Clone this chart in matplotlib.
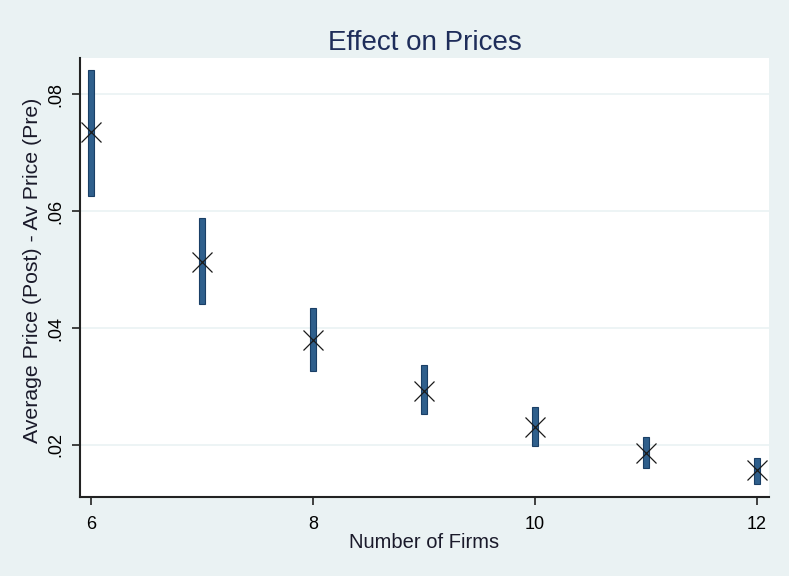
import matplotlib
matplotlib.use('Agg')
import matplotlib.pyplot as plt

# Dados
firms = [6, 7, 8, 9, 10, 11, 12]
effect = [0.0735, 0.0513, 0.0380, 0.0293, 0.0231, 0.0186, 0.0157]
ci_low = [0.0626, 0.0441, 0.0326, 0.0253, 0.0198, 0.0161, 0.0134]
ci_high = [0.0841, 0.0589, 0.0435, 0.0336, 0.0265, 0.0214, 0.0178]
yticks = [0.02, 0.04, 0.06, 0.08]
ytick_labels = ['.02', '.04', '.06', '.08']
xticks = [6, 8, 10, 12]

plt.rcParams['font.family'] = ['Liberation Sans', 'DejaVu Sans']

bg = '#eaf2f3'
fig = plt.figure(figsize=(7.89, 5.76), dpi=100, facecolor=bg)
ax = fig.add_axes([0.1014, 0.1372, 0.8733, 0.7621])
ax.set_facecolor('white')

# Grade horizontal
for t in yticks:
    ax.axhline(t, color=bg, linewidth=1.2, zorder=0)

# Barras do intervalo
heights = [h - l for h, l in zip(ci_high, ci_low)]
ax.bar(firms, heights, bottom=ci_low, width=0.05, color='#2f5f8c',
       edgecolor='#1a3f66', linewidth=0.8, zorder=2)

# Pontos
ax.plot(firms, effect, linestyle='none', marker='x', markersize=14,
        markeredgewidth=0.9, color='#1a1a1a', zorder=3)

ax.set_xlim(5.90, 12.11)
ax.set_ylim(0.0111, 0.0862)
ax.set_xticks(xticks)
ax.set_yticks(yticks)
ax.set_yticklabels(ytick_labels, rotation=90, va='center')
ax.tick_params(axis='both', labelsize=13, length=6, width=1.2, color='#222222',
               labelcolor='black', direction='out')
ax.tick_params(axis='x', pad=8)
ax.tick_params(axis='y', pad=5)

for side in ['top', 'right']:
    ax.spines[side].set_visible(False)
for side in ['left', 'bottom']:
    ax.spines[side].set_linewidth(1.5)
    ax.spines[side].set_color('#222222')

ax.set_title('Effect on Prices', fontsize=20, color='#1e2d5a', pad=6)
ax.set_xlabel('Number of Firms', fontsize=14.5, color='#1a1a2a', labelpad=0)
ax.set_ylabel('Average Price (Post) - Av Price (Pre)', fontsize=15.3,
              color='#1a1a2a')
ax.yaxis.set_label_coords(-0.055, 0.517)

fig.savefig('out.png', dpi=100, facecolor=bg)
